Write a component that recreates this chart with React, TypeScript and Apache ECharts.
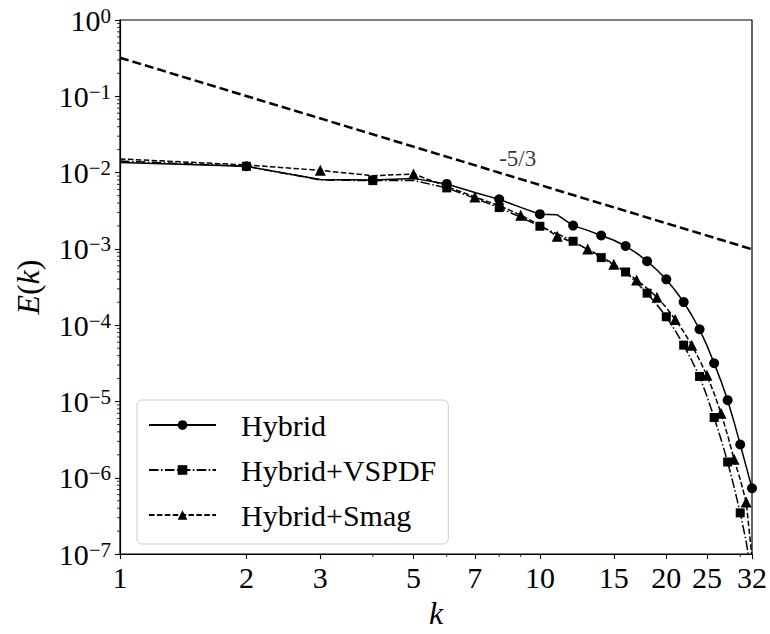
import React, { useEffect, useRef } from 'react';
import * as echarts from 'echarts';

const kValues = [1, 2, 3, 4, 5, 6, 7, 8, 9, 10, 11, 12, 13, 14, 15, 16, 17, 18, 19, 20, 21, 22, 23, 24, 25, 26, 27, 28, 29, 30, 31, 32];

const hybridE = [
  1.36e-2, 1.21e-2, 8.1e-3, 8.0e-3, 8.4e-3, 7.1e-3, 5.5e-3, 4.46e-3, 3.5e-3, 2.85e-3,
  2.8e-3, 2.02e-3, 1.75e-3, 1.5e-3, 1.3e-3, 1.09e-3, 8.8e-4, 6.91e-4, 5.3e-4, 3.99e-4,
  2.85e-4, 2.01e-4, 1.35e-4, 8.84e-5, 5.4e-5, 3.17e-5, 1.85e-5, 1.04e-5, 5.4e-6, 2.73e-6,
  1.4e-6, 7.3e-7,
];

const vspdfE = [
  1.42e-2, 1.21e-2, 8.0e-3, 7.85e-3, 7.9e-3, 6.3e-3, 4.6e-3, 3.48e-3, 2.6e-3, 1.98e-3,
  1.58e-3, 1.26e-3, 9.8e-4, 7.69e-4, 6.2e-4, 4.98e-4, 3.6e-4, 2.63e-4, 1.85e-4, 1.29e-4,
  8.5e-5, 5.48e-5, 3.45e-5, 2.13e-5, 1.17e-5, 6.17e-6, 3.2e-6, 1.61e-6, 7.6e-7, 3.47e-7,
  1.45e-7, 5.0e-8,
];

const smagE = [
  1.51e-2, 1.26e-2, 1.07e-2, 9.1e-3, 9.6e-3, 6.6e-3, 4.79e-3, 3.7e-3, 2.77e-3, 2.05e-3,
  1.46e-3, 1.22e-3, 1.0e-3, 7.9e-4, 6.31e-4, 5.0e-4, 3.92e-4, 3.05e-4, 2.33e-4, 1.7e-4,
  1.19e-4, 8.2e-5, 5.48e-5, 3.5e-5, 2.2e-5, 1.27e-5, 7.03e-6, 3.6e-6, 1.75e-6, 9.5e-7,
  4.81e-7, 9.0e-8,
];

// marker shown every 2nd point
const hybridMarkerStart = 1; // index of k=2
const vspdfMarkerStart = 1;
const smagMarkerStart = 2; // index of k=3

const refLineK = [1, 32];
const refLineE = [0.32, 0.00099];
const refLabelPos = [8, 0.0125];
const refLabelText = '-5/3';

const seriesNames = ['Hybrid', 'Hybrid+VSPDF', 'Hybrid+Smag'];

const xTickValues = [1, 2, 3, 5, 7, 10, 15, 20, 25, 32];
const xMinorTickValues = [4, 6, 8, 9, 30];
const yTickExponents = [-7, -6, -5, -4, -3, -2, -1, 0];
const yMinorMultipliers = [2, 3, 4, 5, 6, 7, 8, 9];

const FONT = "'Liberation Serif', 'Times New Roman', Times, serif";

export default function App() {
  const ref = useRef<HTMLDivElement>(null);

  useEffect(() => {
    if (!ref.current) return;
    const chart = echarts.init(ref.current, undefined, { renderer: 'svg' });

    const yMinor: number[][] = [];
    yTickExponents.slice(0, -1).forEach((e) => {
      yMinorMultipliers.forEach((m) => yMinor.push([1, m * Math.pow(10, e)]));
    });
    const xMinor = xMinorTickValues.map((k) => [k, 1e-7]);

    const mkData = (vals: number[], start: number, sym: string) =>
      kValues.map((k, i) => ({
        value: [k, vals[i]],
        symbol: i >= start && (i - start) % 2 === 0 ? sym : 'none',
      }));

    const option: any = {
      animation: false,
      textStyle: { fontFamily: FONT, color: '#000' },
      grid: {
        left: 120,
        right: 16,
        top: 20,
        bottom: 73,
        show: true,
        borderColor: '#000',
        borderWidth: 1.2,
        backgroundColor: 'transparent',
      },
      xAxis: {
        type: 'log',
        logBase: 10,
        min: 1,
        max: 32,
        name: 'k',
        nameLocation: 'middle',
        nameGap: 42,
        nameTextStyle: { fontFamily: FONT, fontSize: 32, fontStyle: 'italic', color: '#000' },
        axisLine: { show: true, lineStyle: { color: '#000', width: 1.2 } },
        axisTick: {
          show: true,
          inside: false,
          length: 5,
          customValues: xTickValues,
          lineStyle: { color: '#000', width: 1.1 },
        },
        axisLabel: {
          customValues: xTickValues,
          fontFamily: FONT,
          fontSize: 30,
          color: '#000',
          margin: 8,
          formatter: (v: number) => String(Math.round(v)),
        },
        splitLine: { show: false },
        minorTick: { show: false },
      },
      yAxis: {
        type: 'log',
        logBase: 10,
        min: 1e-7,
        max: 1,
        interval: 1,
        name: '{i|E}{n|(}{i|k}{n|)}',
        nameLocation: 'middle',
        nameGap: 76,
        nameRotate: 90,
        nameTextStyle: {
          fontFamily: FONT,
          fontSize: 32,
          color: '#000',
          rich: {
            i: { fontFamily: FONT, fontSize: 32, fontStyle: 'italic', color: '#000' },
            n: { fontFamily: FONT, fontSize: 32, color: '#000' },
          },
        },
        axisLine: { show: true, lineStyle: { color: '#000', width: 1.2 } },
        axisTick: { show: true, inside: false, length: 5, lineStyle: { color: '#000', width: 1.1 } },
        axisLabel: {
          margin: 9,
          fontFamily: FONT,
          formatter: (v: number) => {
            const e = Math.round(Math.log10(v));
            return `{b|10}{s|${e < 0 ? '\u2212' + -e : e}}`;
          },
          rich: {
            b: { fontFamily: FONT, fontSize: 30, lineHeight: 30, color: '#000' },
            s: { fontFamily: FONT, fontSize: 21, lineHeight: 20, verticalAlign: 'top', color: '#000' },
          },
        },
        splitLine: { show: false },
      },
      legend: {
        data: seriesNames,
        orient: 'vertical',
        left: 137,
        top: 400,
        itemWidth: 67,
        itemHeight: 12,
        itemGap: 15,
        padding: [10, 12, 14, 11],
        backgroundColor: 'rgba(255,255,255,0.8)',
        borderColor: '#cccccc',
        borderWidth: 1,
        borderRadius: 5,
        textStyle: { fontFamily: FONT, fontSize: 30, color: '#000', padding: [0, 0, 0, 20] },
      },
      series: [
        {
          name: '__ref',
          type: 'line',
          data: refLineK.map((k, i) => [k, refLineE[i]]),
          symbol: 'none',
          silent: true,
          lineStyle: { color: '#000', width: 2.5, type: [9, 4] },
          z: 1,
        },
        {
          name: '__reflabel',
          type: 'scatter',
          data: [refLabelPos],
          symbolSize: 0,
          silent: true,
          label: {
            show: true,
            formatter: refLabelText,
            position: [0, 0],
            align: 'left',
            verticalAlign: 'bottom',
            offset: [0, 5],
            fontFamily: FONT,
            fontSize: 23,
            color: '#000',
          },
        },
        {
          name: seriesNames[0],
          type: 'line',
          symbol: 'circle',
          symbolSize: 10,
          showAllSymbol: true,
          data: mkData(hybridE, hybridMarkerStart, 'circle'),
          lineStyle: { color: '#000', width: 1.5, type: 'solid' },
          itemStyle: { color: '#000' },
          z: 3,
        },
        {
          name: seriesNames[1],
          type: 'line',
          symbol: 'rect',
          symbolSize: 9,
          showAllSymbol: true,
          data: mkData(vspdfE, vspdfMarkerStart, 'rect'),
          lineStyle: { color: '#000', width: 1.5, type: [9.6, 2.4, 1.5, 2.4] },
          itemStyle: { color: '#000' },
          z: 4,
        },
        {
          name: seriesNames[2],
          type: 'line',
          symbol: 'triangle',
          symbolSize: 11,
          showAllSymbol: true,
          data: mkData(smagE, smagMarkerStart, 'triangle'),
          lineStyle: { color: '#000', width: 1.5, type: [5.5, 2.4] },
          itemStyle: { color: '#000' },
          z: 5,
        },
        {
          name: '__yminor',
          type: 'custom',
          silent: true,
          clip: false,
          data: yMinor,
          renderItem: (_p: any, api: any) => {
            const pt = api.coord([api.value(0), api.value(1)]);
            return {
              type: 'line',
              shape: { x1: pt[0] - 3, y1: pt[1], x2: pt[0], y2: pt[1] },
              style: { stroke: '#000', lineWidth: 0.8 },
            };
          },
        },
        {
          name: '__xminor',
          type: 'custom',
          silent: true,
          clip: false,
          data: xMinor,
          renderItem: (_p: any, api: any) => {
            const pt = api.coord([api.value(0), api.value(1)]);
            return {
              type: 'line',
              shape: { x1: pt[0], y1: pt[1], x2: pt[0], y2: pt[1] + 3 },
              style: { stroke: '#000', lineWidth: 0.8 },
            };
          },
        },
      ],
    };

    chart.setOption(option);
    return () => chart.dispose();
  }, []);

  return (
    <div
      ref={ref}
      style={{ position: 'fixed', left: 0, top: 0, width: 770, height: 634, background: '#fff' }}
    />
  );
}
